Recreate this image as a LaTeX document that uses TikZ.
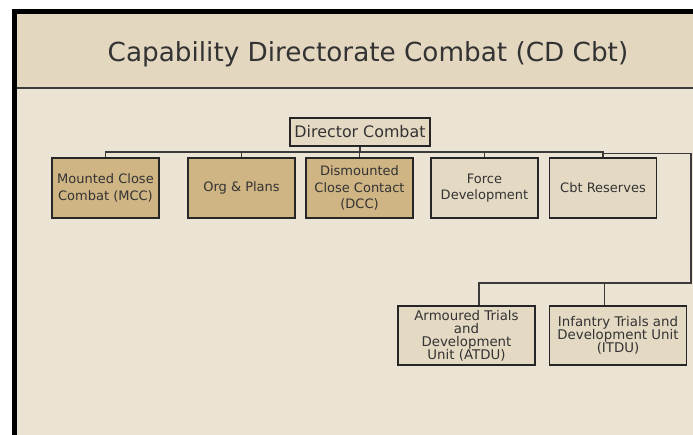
\documentclass[tikz,border=0pt]{standalone}
\usepackage{fontspec}
\setmainfont{DejaVu Sans}
\definecolor{bandc}{HTML}{E3D7C0}
\definecolor{bodyc}{HTML}{EBE4D4}
\definecolor{tanc}{HTML}{CFB484}
\definecolor{lightc}{HTML}{E4D9C3}
\definecolor{linec}{HTML}{3A3A3A}
\definecolor{txtc}{HTML}{333333}
\tikzset{
  box/.style={draw=black!85, line width=1.1pt, rectangle, align=center, inner sep=1pt,
    text=txtc, font=\fontsize{9.75}{12.2}\selectfont},
  tanbox/.style={box, fill=tanc, minimum width=80.25pt, minimum height=45pt},
  ltbox/.style={box, fill=lightc, minimum width=80.25pt, minimum height=45pt},
  unitbox/.style={box, fill=lightc, minimum width=103pt, minimum height=44.25pt,
    font=\fontsize{10}{9.8}\selectfont},
  conn/.style={draw=linec, line width=1.1pt}
}
\begin{document}
\begin{tikzpicture}[x=0.75pt,y=-0.75pt]
\useasboundingbox (0,0) rectangle (693,435);
\fill[white] (0,0) rectangle (693,435);
\fill[bandc] (17,14) rectangle (693,88);
\fill[bodyc] (17,88) rectangle (693,435);
\fill[black] (12,9) rectangle (693,14);
\fill[black] (12,9) rectangle (17,435);
\draw[draw=linec, line width=1.5pt] (17,88.3) -- (693,88.3);

\node[text=txtc, font=\fontsize{19.7}{24}\selectfont] (title) at (368,54) {Capability Directorate Combat (CD Cbt)};

\node[box, fill=lightc, minimum width=105pt, minimum height=21pt, font=\fontsize{11.9}{14}\selectfont] (dir) at (360,132) {Director Combat};

\node[tanbox] (mcc) at (105.5,188) {Mounted Close\\Combat (MCC)};
\node[tanbox] (org) at (241.5,188) {Org \& Plans};
\node[tanbox] (dcc) at (359.5,188) {Dismounted\\Close Contact\\(DCC)};
\node[ltbox] (force) at (484.5,188) {Force\\Development};
\node[ltbox] (cbt) at (603,188) {Cbt Reserves};

\node[unitbox] (atdu) at (466.5,335.5) {Armoured Trials\\and\\Development\\Unit (ATDU)};
\node[unitbox] (itdu) at (618,335.5) {Infantry Trials and\\Development Unit\\(ITDU)};

\coordinate (bus) at (0,152);
\coordinate (bus2) at (0,153.5);
\coordinate (rtop) at (691,153.5);
\coordinate (rbot) at (691,283);
\coordinate (adrop) at ([xshift=9.4pt]atdu.north);
\coordinate (idrop) at ([xshift=-10.3pt]itdu.north);

\draw[conn] (dir.south) -- (dir.south |- bus);
\draw[conn] (mcc.north) |- (cbt.north |- bus) -- (cbt.north);
\draw[conn] (org.north) -- (org.north |- bus);
\draw[conn] (dcc.north) -- (dcc.north |- bus);
\draw[conn] (force.north) -- (force.north |- bus);
\draw[conn] (cbt.north |- bus2) -- (rtop) -- (rbot) -- (adrop |- rbot) -- (adrop);
\draw[conn] (idrop |- rbot) -- (idrop);
\end{tikzpicture}
\end{document}
